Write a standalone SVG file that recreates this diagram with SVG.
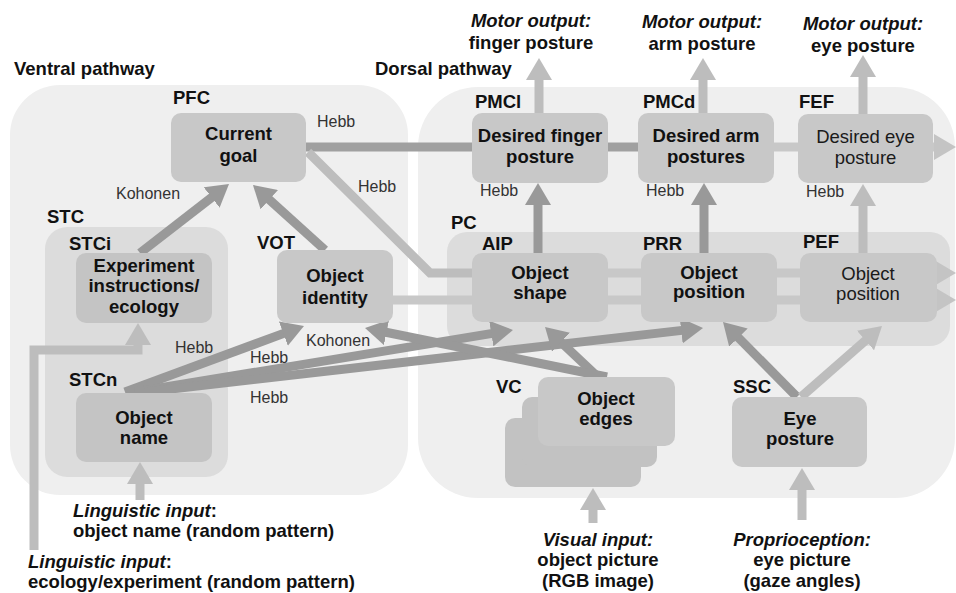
<svg xmlns="http://www.w3.org/2000/svg" width="956" height="593" viewBox="0 0 956 593">
  <style>
    .area { fill: #efefef; }
    .sub { fill: #dcdcdc; }
    .node { fill: #c8c8c8; }
    .node2 { fill: #c4c4c4; }
    .node3 { fill: #c2c2c2; }
    text { font-family: "Liberation Sans", Arial, sans-serif; }
    .t { font-size: 18.5px; font-weight: bold; fill: #111; text-anchor: middle; }
    .tr { font-size: 18.5px; fill: #1a1a1a; text-anchor: middle; }
    .lbl { font-size: 18.5px; font-weight: bold; fill: #111; }
    .io { font-size: 18.5px; font-weight: bold; fill: #111; text-anchor: middle; }
    .iol { font-size: 18.5px; font-weight: bold; fill: #111; }
    .it { font-style: italic; }
    .rule { font-size: 16px; fill: #333; }
    .dark { fill: none; stroke: #999999; stroke-width: 9; }
    .light { fill: none; stroke: #bdbdbd; stroke-width: 9; }
    .pale { fill: none; stroke: #c8c8c8; stroke-width: 9; }
    .mid { fill: none; stroke: #a0a0a0; stroke-width: 9; }
  </style>
  <defs>
    <marker id="ahDark" markerUnits="userSpaceOnUse" markerWidth="22" markerHeight="26" viewBox="0 0 22 26" refX="12" refY="13" orient="auto">
      <path d="M0,0 L22,13 L0,26 z" fill="#999999"/>
    </marker>
    <marker id="ahLight" markerUnits="userSpaceOnUse" markerWidth="22" markerHeight="26" viewBox="0 0 22 26" refX="12" refY="13" orient="auto">
      <path d="M0,0 L22,13 L0,26 z" fill="#bdbdbd"/>
    </marker>
    <marker id="ahPale" markerUnits="userSpaceOnUse" markerWidth="22" markerHeight="26" viewBox="0 0 22 26" refX="12" refY="13" orient="auto">
      <path d="M0,0 L22,13 L0,26 z" fill="#c4c4c4"/>
    </marker>
  </defs>

  <!-- pathway areas -->
  <g id="ventral">
    <rect class="area" x="10" y="85" width="398" height="410" rx="50"/>
    <text class="lbl" x="14" y="75">Ventral pathway</text>
  </g>
  <g id="dorsal">
    <rect class="area" x="418" y="87" width="537" height="411" rx="60"/>
    <text class="lbl" x="375" y="75">Dorsal pathway</text>
  </g>
  <g id="stc">
    <rect class="sub" x="45" y="227" width="183" height="250" rx="22"/>
    <text class="lbl" x="47" y="223">STC</text>
  </g>
  <g id="pc">
    <rect class="sub" x="447" y="232" width="503" height="114" rx="20"/>
    <text class="lbl" x="451" y="229">PC</text>
  </g>

  <!-- connectors -->
  <g id="connectors">
    <!-- goal / motor chain -->
    <line class="mid" x1="306" y1="147" x2="472" y2="147"/>
    <line class="mid" x1="608" y1="147" x2="638" y2="147"/>
    <line class="pale" x1="774" y1="147" x2="798" y2="147"/>
    <line class="pale" x1="933" y1="147" x2="946" y2="147" stroke="#c4c4c4" marker-end="url(#ahPale)"/>
    <!-- goal to shape (Hebb) -->
    <path class="light" d="M308,152 L430,273 H472"/>
    <!-- identity to shape -->
    <line class="pale" x1="393" y1="300" x2="472" y2="300"/>
    <!-- parietal chain -->
    <line class="pale" x1="608" y1="273" x2="641" y2="273"/>
    <line class="pale" x1="608" y1="300" x2="641" y2="300"/>
    <line class="pale" x1="777" y1="273" x2="800" y2="273"/>
    <line class="pale" x1="777" y1="300" x2="800" y2="300"/>
    <line class="pale" x1="936" y1="273" x2="946" y2="273" marker-end="url(#ahPale)"/>
    <line class="pale" x1="936" y1="300" x2="946" y2="300" marker-end="url(#ahPale)"/>
    <!-- into current goal -->
    <line class="dark" x1="140" y1="253" x2="221.1" y2="190.1" marker-end="url(#ahDark)"/>
    <line class="dark" x1="325" y1="250" x2="260.4" y2="191.7" marker-end="url(#ahDark)"/>
    <!-- from object name -->
    <line class="dark" x1="125" y1="392" x2="294.6" y2="329.4" marker-end="url(#ahDark)"/>
    <line class="dark" x1="135" y1="392" x2="503.1" y2="331.6" marker-end="url(#ahDark)"/>
    <line class="dark" x1="145" y1="392" x2="693.1" y2="329.1" marker-end="url(#ahDark)"/>
    <!-- from object edges -->
    <line class="dark" x1="598" y1="377" x2="552.3" y2="333.9" marker-end="url(#ahDark)"/>
    <line class="dark" x1="607" y1="377" x2="374.8" y2="330.0" marker-end="url(#ahDark)"/>
    <!-- from eye posture -->
    <line class="dark" x1="797" y1="397" x2="730.0" y2="329.1" marker-end="url(#ahDark)"/>
    <line class="light" x1="801" y1="397" x2="874.5" y2="332.6" marker-end="url(#ahLight)"/>
    <!-- parietal to premotor -->
    <line class="dark" x1="538" y1="253" x2="538" y2="193" marker-end="url(#ahDark)"/>
    <line class="dark" x1="704" y1="253" x2="704" y2="193" marker-end="url(#ahDark)"/>
    <line class="light" x1="863" y1="253" x2="863" y2="194" marker-end="url(#ahLight)"/>
    <!-- motor outputs -->
    <line class="light" x1="539" y1="113" x2="539" y2="68" marker-end="url(#ahLight)"/>
    <line class="light" x1="703" y1="113" x2="703" y2="68" marker-end="url(#ahLight)"/>
    <line class="light" x1="863" y1="114" x2="863" y2="65" marker-end="url(#ahLight)"/>
    <!-- sensory inputs -->
    <line class="light" x1="140" y1="500" x2="140" y2="472" marker-end="url(#ahLight)"/>
    <path class="light" d="M34,550 V350 H138 V333" marker-end="url(#ahLight)"/>
    <line class="light" x1="593" y1="523" x2="593" y2="498" marker-end="url(#ahLight)"/>
    <line class="light" x1="802" y1="520" x2="802" y2="478" marker-end="url(#ahLight)"/>
  </g>

  <!-- learning rule labels -->
  <g id="rules">
    <text class="rule" x="317" y="127">Hebb</text>
    <text class="rule" x="358" y="192">Hebb</text>
    <text class="rule" x="116" y="199">Kohonen</text>
    <text class="rule" x="175" y="353">Hebb</text>
    <text class="rule" x="250" y="363">Hebb</text>
    <text class="rule" x="306" y="346">Kohonen</text>
    <text class="rule" x="250" y="403">Hebb</text>
    <text class="rule" x="480" y="196">Hebb</text>
    <text class="rule" x="646" y="196">Hebb</text>
    <text class="rule" x="806" y="197">Hebb</text>
  </g>

  <!-- ventral nodes -->
  <g id="pfc">
    <rect class="node" x="171" y="113" width="135" height="69" rx="10"/>
    <text class="lbl" x="173" y="104">PFC</text>
    <text class="t" x="238.5" y="140">Current</text>
    <text class="t" x="238.5" y="162">goal</text>
  </g>
  <g id="stci">
    <rect class="node2" x="76" y="253" width="136" height="70" rx="10"/>
    <text class="lbl" x="69" y="250">STCi</text>
    <text class="t" x="144" y="272">Experiment</text>
    <text class="t" x="144" y="292">instructions/</text>
    <text class="t" x="144" y="313">ecology</text>
  </g>
  <g id="stcn">
    <rect class="node2" x="76" y="393" width="136" height="69" rx="10"/>
    <text class="lbl" x="69" y="386">STCn</text>
    <text class="t" x="144" y="424">Object</text>
    <text class="t" x="144" y="444">name</text>
  </g>
  <g id="vot">
    <rect class="node" x="277" y="250" width="116" height="73" rx="10"/>
    <text class="lbl" x="257" y="249">VOT</text>
    <text class="t" x="335" y="282">Object</text>
    <text class="t" x="335" y="304">identity</text>
  </g>

  <!-- dorsal nodes -->
  <g id="pmcl">
    <rect class="node" x="472" y="113" width="136" height="70" rx="10"/>
    <text class="lbl" x="475" y="108">PMCl</text>
    <text class="t" x="540" y="142">Desired finger</text>
    <text class="t" x="540" y="163">posture</text>
  </g>
  <g id="pmcd">
    <rect class="node" x="638" y="113" width="136" height="70" rx="10"/>
    <text class="lbl" x="643" y="108">PMCd</text>
    <text class="t" x="706" y="142">Desired arm</text>
    <text class="t" x="706" y="163">postures</text>
  </g>
  <g id="fef">
    <rect class="node" x="798" y="114" width="135" height="69" rx="10"/>
    <text class="lbl" x="799" y="108">FEF</text>
    <text class="tr" x="865.5" y="143">Desired eye</text>
    <text class="tr" x="865.5" y="164">posture</text>
  </g>
  <g id="aip">
    <rect class="node" x="472" y="253" width="136" height="69" rx="10"/>
    <text class="lbl" x="482" y="250">AIP</text>
    <text class="t" x="540" y="279">Object</text>
    <text class="t" x="540" y="299">shape</text>
  </g>
  <g id="prr">
    <rect class="node" x="641" y="253" width="136" height="69" rx="10"/>
    <text class="lbl" x="643" y="250">PRR</text>
    <text class="t" x="709" y="279">Object</text>
    <text class="t" x="709" y="298">position</text>
  </g>
  <g id="pef">
    <rect class="node" x="800" y="253" width="137" height="69" rx="10"/>
    <text class="lbl" x="803" y="248">PEF</text>
    <text class="tr" x="868" y="280">Object</text>
    <text class="tr" x="868" y="300">position</text>
  </g>
  <g id="vc">
    <rect class="node3" x="505" y="418" width="136" height="69" rx="10"/>
    <rect class="node3" x="522" y="397" width="135" height="70" rx="10"/>
    <rect class="node" x="538" y="377" width="137" height="69" rx="10"/>
    <text class="lbl" x="496" y="393">VC</text>
    <text class="t" x="606" y="405">Object</text>
    <text class="t" x="606" y="425">edges</text>
  </g>
  <g id="ssc">
    <rect class="node" x="732" y="397" width="135" height="70" rx="10"/>
    <text class="lbl" x="733" y="393">SSC</text>
    <text class="t" x="800" y="425">Eye</text>
    <text class="t" x="800" y="445">posture</text>
  </g>

  <!-- inputs and outputs -->
  <g id="outputs">
    <text class="io" x="531" y="27"><tspan class="it">Motor output:</tspan></text>
    <text class="io" x="531" y="49">finger posture</text>
    <text class="io" x="702" y="28"><tspan class="it">Motor output:</tspan></text>
    <text class="io" x="702" y="50">arm posture</text>
    <text class="io" x="863" y="30"><tspan class="it">Motor output:</tspan></text>
    <text class="io" x="863" y="52">eye posture</text>
  </g>
  <g id="inputs">
    <text class="iol" x="73" y="517"><tspan class="it">Linguistic input</tspan>:</text>
    <text class="iol" x="73" y="537">object name (random pattern)</text>
    <text class="iol" x="28" y="568"><tspan class="it">Linguistic input</tspan>:</text>
    <text class="iol" x="28" y="588">ecology/experiment (random pattern)</text>
    <text class="io" x="598" y="546"><tspan class="it">Visual input:</tspan></text>
    <text class="io" x="598" y="566">object picture</text>
    <text class="io" x="598" y="587">(RGB image)</text>
    <text class="io" x="802" y="546"><tspan class="it">Proprioception:</tspan></text>
    <text class="io" x="802" y="566">eye picture</text>
    <text class="io" x="802" y="587">(gaze angles)</text>
  </g>
</svg>
